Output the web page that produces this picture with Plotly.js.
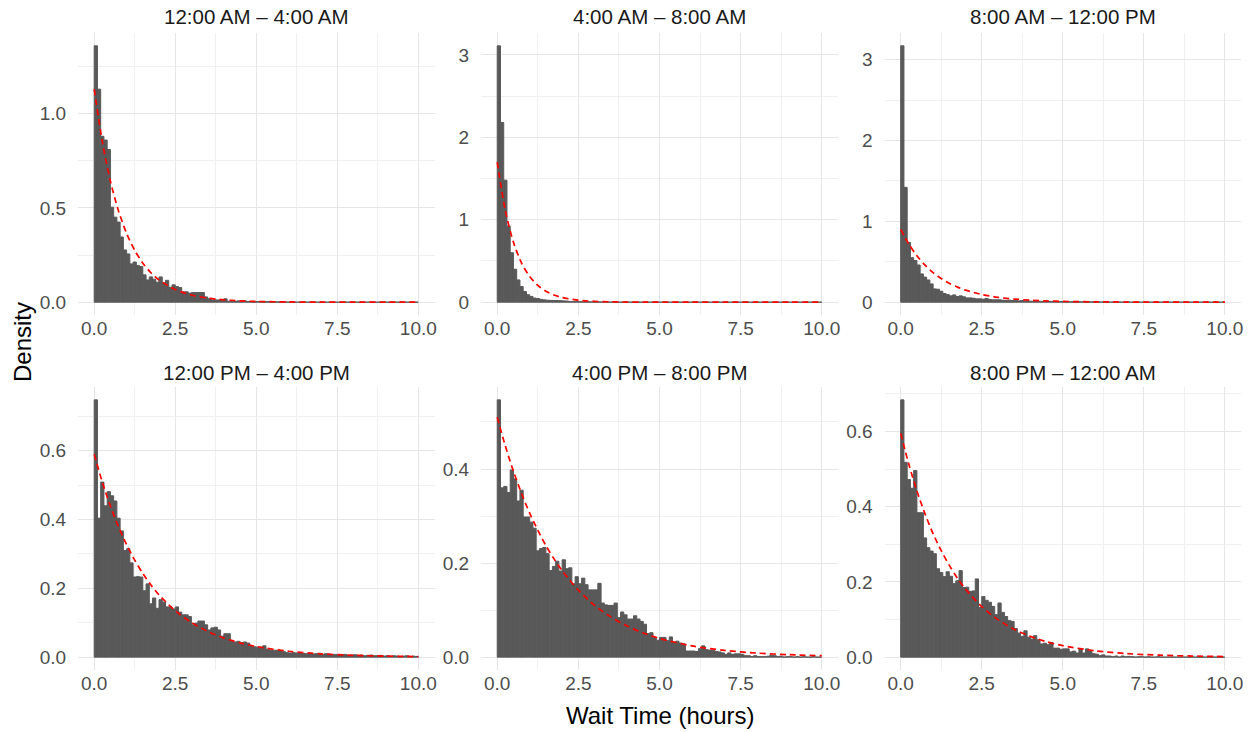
<!DOCTYPE html>
<html>
<head>
<meta charset="utf-8">
<script src="https://cdn.plot.ly/plotly-3.0.1.min.js"></script>
<style>html,body{margin:0;padding:0;background:#fff;}#chart{width:1256px;height:732px;}</style>
</head>
<body>
<div id="chart"></div>
<script>
// ---------- DATA ----------
const panelTitles = ["12:00 AM \u2013 4:00 AM", "4:00 AM \u2013 8:00 AM", "8:00 AM \u2013 12:00 PM",
                     "12:00 PM \u2013 4:00 PM", "4:00 PM \u2013 8:00 PM", "8:00 PM \u2013 12:00 AM"];
const binWidth = 0.1;   // hours per histogram bin, bins start at 0

// Histogram densities (bins 0.0-0.1, 0.1-0.2, ... 9.9-10.0)
const dens_00_04 = [1.36,1.13,0.88,0.86,0.81,0.504,0.451,0.425,0.346,0.277,
  0.256,0.203,0.213,0.194,0.189,0.145,0.118,0.134,0.122,0.106,
  0.134,0.102,0.116,0.079,0.092,0.083,0.078,0.055,0.055,0.048,
  0.051,0.051,0.051,0.051,0.028,0.018,0.012,0.012,0.012,0.009,
  0.018,0.005,0.004,0.004,0.007,0.005,0.007,0.004,0.002,0.002,
  0.003,0.002,0.001,0.003,0.001,0,0.002,0.001,0,0.001,
  0,0.001,0,0,0.001,0,0,0,0,0,
  0,0,0,0,0,0,0,0,0,0,
  0,0,0,0,0,0,0,0,0,0,
  0,0,0,0,0,0,0,0,0,0];
const dens_04_08 = [3.11,2.18,1.48,0.92,0.60,0.40,0.27,0.19,0.13,0.09,
  0.07,0.05,0.045,0.035,0.028,0.024,0.022,0.020,0.020,0.018,
  0.016,0.014,0.009,0.007,0.009,0.006,0.005,0.006,0.004,0.004,
  0.003,0.003,0.002,0.003,0.002,0.001,0.002,0.001,0.001,0.002,
  0.001,0.001,0,0.001,0,0.001,0,0,0.001,0,
  0,0,0,0,0,0,0,0,0,0,
  0,0,0,0,0,0,0,0,0,0,
  0,0,0,0,0,0,0,0,0,0,
  0,0,0,0,0,0,0,0,0,0,
  0,0,0,0,0,0,0,0,0,0];
const dens_08_12 = [3.17,1.42,0.74,0.55,0.515,0.46,0.35,0.31,0.275,0.226,
  0.164,0.16,0.135,0.107,0.094,0.078,0.09,0.07,0.078,0.066,
  0.053,0.053,0.049,0.041,0.041,0.037,0.045,0.033,0.029,0.029,
  0.029,0.025,0.02,0.025,0.02,0.025,0.016,0.02,0.016,0.014,
  0.012,0.015,0.011,0.010,0.012,0.009,0.010,0.008,0.007,0.009,
  0.006,0.007,0.005,0.006,0.004,0.005,0.004,0.003,0.004,0.003,
  0.002,0.003,0.002,0.002,0.001,0.002,0.001,0.002,0.001,0.001,
  0.001,0,0.001,0.001,0,0.001,0,0,0.001,0,
  0,0,0,0,0,0,0,0,0,0,
  0,0,0,0,0,0,0,0,0,0];
const dens_12_16 = [0.748,0.404,0.509,0.440,0.481,0.469,0.454,0.404,0.367,0.310,
  0.315,0.274,0.233,0.234,0.233,0.193,0.213,0.155,0.172,0.142,
  0.167,0.160,0.146,0.146,0.140,0.146,0.131,0.123,0.123,0.118,
  0.094,0.099,0.105,0.105,0.094,0.079,0.085,0.087,0.079,0.061,
  0.068,0.068,0.046,0.044,0.046,0.042,0.044,0.041,0.034,0.030,
  0.029,0.029,0.033,0.023,0.021,0.020,0.020,0.019,0.016,0.013,
  0.012,0.013,0.012,0.013,0.011,0.010,0.011,0.009,0.010,0.011,
  0.008,0.010,0.009,0.007,0.008,0.006,0.007,0.008,0.005,0.006,
  0.007,0.005,0.006,0.004,0.005,0.006,0.004,0.004,0.005,0.003,
  0.004,0.003,0.004,0.003,0.002,0.003,0.004,0.002,0.003,0.002];
const dens_16_20 = [0.547,0.360,0.363,0.350,0.398,0.379,0.332,0.355,0.298,0.298,
  0.287,0.274,0.226,0.231,0.233,0.220,0.184,0.193,0.204,0.183,
  0.207,0.188,0.190,0.156,0.171,0.156,0.168,0.154,0.143,0.143,
  0.143,0.157,0.115,0.111,0.110,0.110,0.115,0.084,0.096,0.090,
  0.081,0.081,0.088,0.081,0.076,0.070,0.050,0.052,0.042,0.036,
  0.042,0.042,0.035,0.043,0.031,0.034,0.030,0.028,0.013,0.013,
  0.013,0.012,0.018,0.024,0.016,0.015,0.015,0.012,0.011,0.009,
  0.006,0.009,0.006,0.007,0.007,0.006,0.003,0.003,0.001,0.003,
  0.001,0.001,0.001,0.002,0.004,0.003,0.001,0.002,0,0.001,
  0.001,0,0.001,0,0.001,0,0,0.001,0,0];
const dens_20_24 = [0.684,0.518,0.472,0.449,0.496,0.384,0.384,0.317,0.291,0.282,
  0.275,0.235,0.225,0.214,0.227,0.215,0.196,0.203,0.230,0.185,
  0.186,0.175,0.176,0.208,0.132,0.161,0.151,0.146,0.135,0.113,
  0.144,0.119,0.108,0.097,0.095,0.076,0.064,0.055,0.070,0.053,
  0.048,0.057,0.046,0.035,0.037,0.033,0.039,0.024,0.024,0.021,
  0.022,0.022,0.014,0.016,0.011,0.022,0.011,0.022,0.015,0.009,
  0.008,0.004,0.006,0.003,0.003,0.001,0.003,0,0.003,0.001,
  0.002,0.001,0,0.001,0.001,0,0.001,0,0,0.001,
  0,0,0,0,0,0,0,0,0,0,
  0,0,0,0,0,0,0,0,0,0];

// Fitted exponential density (red dashed), read at these x positions
const curveX = [0,0.25,0.5,0.75,1,1.25,1.5,1.75,2,2.5,3,3.5,4,4.5,5,6,7,8,9,10];
const fit_00_04 = [1.13,0.852,0.642,0.484,0.365,0.275,0.207,0.156,0.118,0.067,0.038,0.0217,0.0123,0.0070,0.0040,0.0013,0.0004,0.0001,0.00004,0.00001];
const fit_04_08 = [1.70,1.112,0.727,0.475,0.311,0.203,0.133,0.087,0.057,0.024,0.0104,0.0044,0.0019,0.0008,0.0003,0.00006,0.00001,0,0,0];
const fit_08_12 = [0.90,0.719,0.574,0.458,0.366,0.292,0.233,0.186,0.149,0.095,0.060,0.0386,0.0246,0.0157,0.0100,0.0041,0.0017,0.0007,0.0003,0.0001];
const fit_12_16 = [0.59,0.509,0.439,0.379,0.327,0.282,0.2435,0.210,0.181,0.135,0.1005,0.0748,0.0557,0.0415,0.0309,0.0171,0.0095,0.0053,0.0029,0.0016];
const fit_16_20 = [0.51,0.449,0.395,0.348,0.306,0.270,0.237,0.209,0.184,0.1425,0.110,0.0856,0.0663,0.0514,0.0398,0.0239,0.0144,0.0086,0.0052,0.0031];
const fit_20_24 = [0.595,0.513,0.442,0.381,0.328,0.283,0.244,0.210,0.181,0.1345,0.0998,0.0741,0.0551,0.0409,0.0304,0.0168,0.0092,0.0051,0.0028,0.0015];

// Tick labels
const xTickVals = [0, 2.5, 5, 7.5, 10];
const xTickText = ["0.0", "2.5", "5.0", "7.5", "10.0"];
const yTickVals = [[0,0.5,1.0],[0,1,2,3],[0,1,2,3],[0,0.2,0.4,0.6],[0,0.2,0.4],[0,0.2,0.4,0.6]];
const yTickText = [["0.0","0.5","1.0"],["0","1","2","3"],["0","1","2","3"],["0.0","0.2","0.4","0.6"],["0.0","0.2","0.4"],["0.0","0.2","0.4","0.6"]];
const yMinorStep = [0.25, 0.5, 0.5, 0.1, 0.1, 0.1];
const xAxisTitle = "Wait Time (hours)";
const yAxisTitle = "Density";

// ---------- BUILD ----------
const densities = [dens_00_04, dens_04_08, dens_08_12, dens_12_16, dens_16_20, dens_20_24];
const fits = [fit_00_04, fit_04_08, fit_08_12, fit_12_16, fit_16_20, fit_20_24];

const W = 1256, H = 732;
const colsPx = [[78, 434.5], [481, 838], [884.5, 1241]];
const rowsPx = [[33, 315], [387, 670]];
const stripY = [16, 372];
const FONT = "Liberation Sans, Arial, Helvetica, sans-serif";
const TICK_SIZE = 19, STRIP_SIZE = 20.5, TITLE_SIZE = 24;

const traces = [];
const layout = {
  width: W, height: H,
  margin: {l: 0, r: 0, t: 0, b: 0},
  paper_bgcolor: "#ffffff", plot_bgcolor: "#ffffff",
  showlegend: false,
  font: {family: FONT},
  annotations: []
};

for (let p = 0; p < 6; p++) {
  const r = Math.floor(p / 3), c = p % 3;
  const sfx = p === 0 ? "" : String(p + 1);
  const xa = "x" + sfx, ya = "y" + sfx;
  const d = densities[p];
  const centers = d.map((_, i) => (i + 0.5) * binWidth);
  traces.push({
    type: "bar", x: centers, y: d, width: binWidth,
    xaxis: xa, yaxis: ya,
    marker: {color: "#595959", line: {color: "#595959", width: 1}},
    hoverinfo: "skip"
  });
  traces.push({
    type: "scatter", mode: "lines", x: curveX, y: fits[p],
    xaxis: xa, yaxis: ya,
    line: {color: "#ff0000", width: 1.7, dash: "6px,4px", shape: "spline", smoothing: 0.8},
    hoverinfo: "skip"
  });
  const ymax = Math.max(...d);
  const dom_x = [colsPx[c][0] / W, colsPx[c][1] / W];
  const dom_y = [1 - rowsPx[r][1] / H, 1 - rowsPx[r][0] / H];
  layout["xaxis" + sfx] = {
    domain: dom_x, anchor: ya, range: [-0.5, 10.5],
    tickmode: "array", tickvals: xTickVals, ticktext: xTickText,
    showgrid: true, gridcolor: "#e6e6e6", gridwidth: 1,
    zeroline: false, showline: false, ticks: "",
    tickfont: {family: FONT, size: TICK_SIZE, color: "#4d4d4d"},
    minor: {tick0: 0, dtick: 1.25, showgrid: true, gridcolor: "#f0f0f0", gridwidth: 1, ticks: ""},
    fixedrange: true, automargin: false
  };
  layout["yaxis" + sfx] = {
    domain: dom_y, anchor: xa, range: [-0.05 * ymax, 1.05 * ymax],
    tickmode: "array", tickvals: yTickVals[p], ticktext: yTickText[p],
    showgrid: true, gridcolor: "#e6e6e6", gridwidth: 1,
    zeroline: false, showline: false,
    ticks: "outside", ticklen: 7, tickcolor: "rgba(0,0,0,0)",
    tickfont: {family: FONT, size: TICK_SIZE, color: "#4d4d4d"},
    minor: {tick0: 0, dtick: yMinorStep[p], showgrid: true, gridcolor: "#f0f0f0", gridwidth: 1, ticks: ""},
    fixedrange: true, automargin: false
  };
  layout.annotations.push({
    text: panelTitles[p], xref: "paper", yref: "paper",
    x: (dom_x[0] + dom_x[1]) / 2, y: 1 - stripY[r] / H, yanchor: "middle", xanchor: "center",
    showarrow: false,
    font: {family: FONT, size: STRIP_SIZE, color: "#1a1a1a"}
  });
}

layout.annotations.push({
  text: xAxisTitle, xref: "paper", yref: "paper",
  x: (colsPx[0][0] + colsPx[2][1]) / 2 / W, y: 1 - 715 / H,
  xanchor: "center", yanchor: "middle", showarrow: false,
  font: {family: FONT, size: TITLE_SIZE, color: "#000000"}
});
layout.annotations.push({
  text: yAxisTitle, xref: "paper", yref: "paper",
  x: 22 / W, y: 1 - 342 / H, textangle: -90,
  xanchor: "center", yanchor: "middle", showarrow: false,
  font: {family: FONT, size: TITLE_SIZE, color: "#000000"}
});

Plotly.newPlot("chart", traces, layout, {staticPlot: true, displayModeBar: false});
</script>
</body>
</html>
